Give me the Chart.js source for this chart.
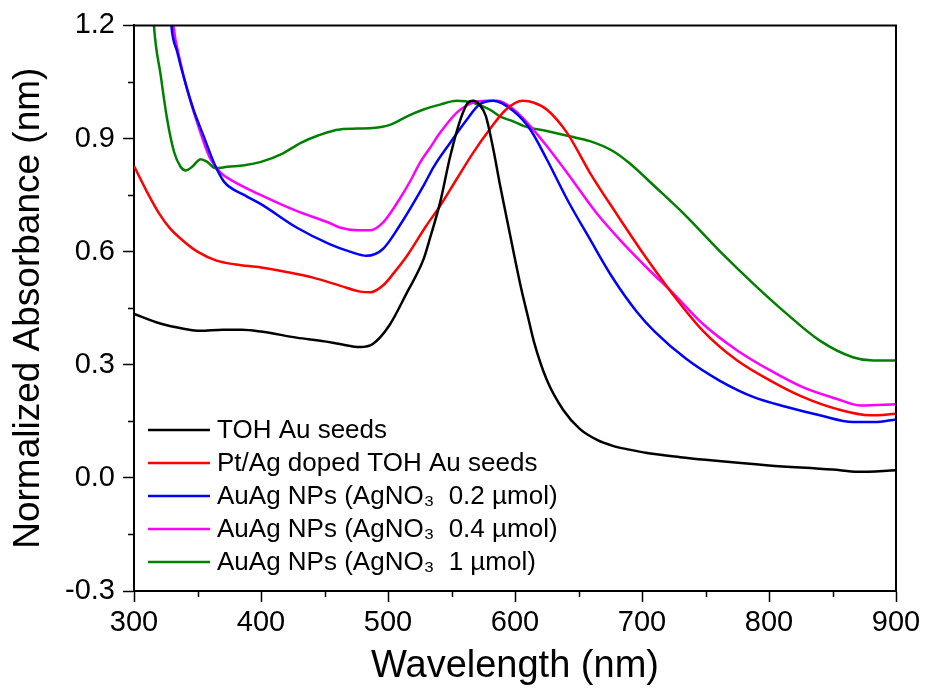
<!DOCTYPE html>
<html>
<head>
<meta charset="utf-8">
<script src="https://cdn.jsdelivr.net/npm/chart.js@4.4.1/dist/chart.umd.min.js"></script>
<style>
  html, body { margin: 0; padding: 0; background: #fff; }
  #wrap { width: 926px; height: 689px; }
</style>
</head>
<body>
<div id="wrap"><canvas id="chart" width="926" height="689"></canvas></div>
<script>
// wavelengths (nm) and normalized absorbance
const seedsX = [300, 320, 340, 352, 370, 385, 400, 428, 450, 462, 478, 488, 501, 515, 528, 533, 541, 549, 557, 563, 567, 572, 577, 583, 588, 594, 600, 605, 610, 615, 625, 638, 651, 665, 677, 690, 704, 730, 750, 800, 850, 870, 900]
const seedsY = [0.435, 0.41, 0.395, 0.39, 0.393, 0.393, 0.388, 0.372, 0.362, 0.355, 0.347, 0.355, 0.404, 0.492, 0.58, 0.635, 0.73, 0.853, 0.95, 0.995, 1.0, 0.99, 0.96, 0.87, 0.78, 0.68, 0.58, 0.5, 0.43, 0.36, 0.26, 0.18, 0.13, 0.1, 0.085, 0.075, 0.066, 0.055, 0.048, 0.033, 0.022, 0.016, 0.02]

const dopedX = [300, 310, 320, 328, 340, 350, 365, 380, 400, 420, 441, 462, 478, 486, 496, 505, 515, 530, 541, 554, 567, 580, 593, 606, 615, 625, 641, 659, 680, 703, 724, 748, 775, 801, 827, 853, 880, 900]
const dopedY = [0.827, 0.76, 0.7, 0.663, 0.625, 0.6, 0.576, 0.566, 0.558, 0.546, 0.531, 0.51, 0.494, 0.492, 0.51, 0.545, 0.589, 0.668, 0.721, 0.792, 0.862, 0.924, 0.977, 1.0, 0.995, 0.977, 0.915, 0.809, 0.7, 0.585, 0.488, 0.39, 0.311, 0.258, 0.214, 0.183, 0.166, 0.17]

const ag02X = [325, 329.4, 334, 339.4, 347, 355, 363, 371, 387, 400, 428, 454, 470, 483, 496, 509, 528, 536, 549, 562, 572, 583, 599, 612, 625, 641, 659, 677, 696, 710, 735, 761, 788, 814, 840, 866, 883, 900]
const ag02Y = [1.45, 1.2, 1.13, 1.06, 0.975, 0.905, 0.835, 0.785, 0.75, 0.726, 0.664, 0.62, 0.6, 0.589, 0.607, 0.668, 0.775, 0.825, 0.889, 0.95, 0.99, 1.0, 0.972, 0.924, 0.845, 0.739, 0.633, 0.53, 0.44, 0.388, 0.315, 0.258, 0.214, 0.188, 0.166, 0.148, 0.148, 0.155]

const ag04X = [325, 331, 336, 341, 349, 360, 368, 379, 400, 428, 454, 462, 476, 486, 496, 509, 518, 525, 533, 541, 554, 567, 578, 586, 599, 612, 625, 643, 664, 683, 706, 725, 748, 775, 801, 827, 853, 872, 900]
const ag04Y = [1.45, 1.2, 1.11, 1.04, 0.95, 0.847, 0.81, 0.785, 0.75, 0.708, 0.676, 0.664, 0.657, 0.657, 0.677, 0.739, 0.79, 0.835, 0.875, 0.915, 0.968, 0.995, 1.0, 1.0, 0.977, 0.933, 0.88, 0.8, 0.703, 0.63, 0.55, 0.488, 0.408, 0.338, 0.285, 0.24, 0.21, 0.192, 0.195]

const ag1X = [312, 315.7, 321, 326, 331.5, 336.7, 340.7, 345.8, 352.5, 357.7, 364.3, 373.5, 387, 400, 417, 431, 445, 462, 488, 502, 515, 528, 541, 554, 567, 580, 588, 599, 607, 625, 643, 659, 677, 690, 711, 733, 761, 788, 814, 840, 866, 882, 900]
const ag1Y = [1.45, 1.2, 1.068, 0.953, 0.865, 0.825, 0.815, 0.825, 0.845, 0.838, 0.821, 0.825, 0.829, 0.838, 0.86, 0.888, 0.908, 0.924, 0.928, 0.937, 0.959, 0.977, 0.99, 1.0, 0.995, 0.977, 0.959, 0.945, 0.933, 0.92, 0.906, 0.893, 0.867, 0.835, 0.77, 0.7, 0.602, 0.514, 0.435, 0.364, 0.32, 0.311, 0.311]

const seriesNames = [
  'TOH Au seeds',
  'Pt/Ag doped TOH Au seeds',
  'AuAg NPs (AgNO\u2083  0.2 \u00b5mol)',
  'AuAg NPs (AgNO\u2083  0.4 \u00b5mol)',
  'AuAg NPs (AgNO\u2083  1 \u00b5mol)',
]
const seriesColors = ['#000000', '#ff0000', '#0000ff', '#ff00ff', '#008000']
const seriesX = [seedsX, dopedX, ag02X, ag04X, ag1X]
const seriesY = [seedsY, dopedY, ag02Y, ag04Y, ag1Y]

const FONT = "'Liberation Sans', Arial, Helvetica, sans-serif"

const toPoints = (xs, ys) => xs.map((x, i) => ({ x, y: ys[i] }))

const datasets = seriesNames.map((label, i) => ({
  label,
  data: toPoints(seriesX[i], seriesY[i]),
  borderColor: seriesColors[i],
  borderWidth: 2.5,
  pointRadius: 0,
  showLine: true,
  fill: false,
  cubicInterpolationMode: 'monotone',
  clip: 0,
}))

const isMajorX = (v) => Math.round(v) % 100 === 0
const isMajorY = (v) => Math.round(v * 100) % 30 === 0

// frame, minor ticks and the in-plot legend
const decorations = {
  id: 'decorations',
  afterDraw(chart) {
    const { ctx, chartArea: a, scales } = chart
    ctx.save()
    ctx.strokeStyle = '#000'
    ctx.lineWidth = 2
    ctx.beginPath()
    ctx.moveTo(a.left, a.top)
    ctx.lineTo(a.right, a.top)
    ctx.lineTo(a.right, a.bottom)
    ctx.stroke()

    ctx.lineWidth = 1.5
    ctx.beginPath()
    scales.x.ticks.forEach((t) => {
      if (isMajorX(t.value)) return
      const px = Math.round(scales.x.getPixelForValue(t.value)) + 0.5
      ctx.moveTo(px, a.bottom)
      ctx.lineTo(px, a.bottom + 6)
    })
    scales.y.ticks.forEach((t) => {
      if (isMajorY(t.value)) return
      const py = Math.round(scales.y.getPixelForValue(t.value)) + 0.5
      ctx.moveTo(a.left, py)
      ctx.lineTo(a.left - 6, py)
    })
    ctx.stroke()

    // legend
    const x0 = a.left + 14
    const y0 = a.bottom - 161
    ctx.font = `26px ${FONT}`
    ctx.textBaseline = 'middle'
    ctx.textAlign = 'left'
    chart.data.datasets.forEach((ds, i) => {
      const y = y0 + i * 33
      ctx.strokeStyle = ds.borderColor
      ctx.lineWidth = 2.5
      ctx.beginPath()
      ctx.moveTo(x0, y)
      ctx.lineTo(x0 + 62, y)
      ctx.stroke()
      ctx.fillStyle = '#000'
      ctx.fillText(ds.label, x0 + 69, y + 1)
    })
    ctx.restore()
  },
}

new Chart(document.getElementById('chart'), {
  type: 'scatter',
  data: { datasets },
  plugins: [decorations],
  options: {
    responsive: false,
    animation: false,
    devicePixelRatio: 1,
    layout: { padding: { top: 24, right: 30, left: 0, bottom: 0 } },
    plugins: { legend: { display: false }, tooltip: { enabled: false } },
    scales: {
      x: {
        type: 'linear',
        min: 300,
        max: 900,
        afterFit: (scale) => { scale.height = 98 },
        border: { display: true, color: '#000', width: 2 },
        grid: {
          drawOnChartArea: false,
          drawTicks: true,
          tickLength: 11,
          tickWidth: 1.5,
          tickColor: (c) => (isMajorX(c.tick.value) ? '#000' : 'transparent'),
        },
        ticks: {
          stepSize: 50,
          autoSkip: false,
          maxRotation: 0,
          padding: 4,
          color: '#000',
          font: { family: FONT, size: 29 },
          callback: (v) => (isMajorX(v) ? String(v) : ''),
        },
        title: {
          display: true,
          text: 'Wavelength (nm)',
          color: '#000',
          font: { family: FONT, size: 38 },
          padding: { top: 0, bottom: 0 },
        },
      },
      y: {
        type: 'linear',
        min: -0.3,
        max: 1.2,
        afterFit: (scale) => { scale.width = 134 },
        border: { display: true, color: '#000', width: 2 },
        grid: {
          drawOnChartArea: false,
          drawTicks: true,
          tickLength: 11,
          tickWidth: 1.5,
          tickColor: (c) => (isMajorY(c.tick.value) ? '#000' : 'transparent'),
        },
        ticks: {
          stepSize: 0.15,
          autoSkip: false,
          padding: 8,
          color: '#000',
          font: { family: FONT, size: 29 },
          callback: (v) => (isMajorY(v) ? (Math.round(v * 100) / 100).toFixed(1) : ''),
        },
        title: {
          display: true,
          text: 'Normalized Absorbance (nm)',
          color: '#000',
          font: { family: FONT, size: 37 },
          padding: { top: 7, bottom: 0 },
        },
      },
    },
  },
})
</script>
</body>
</html>
